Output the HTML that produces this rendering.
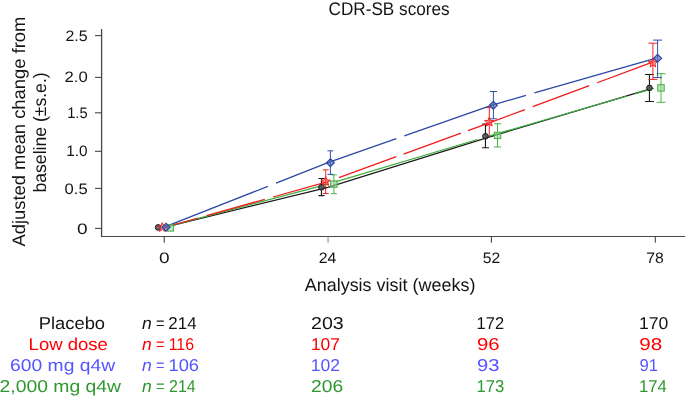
<!DOCTYPE html>
<html><head><meta charset="utf-8"><style>
html,body{margin:0;padding:0;background:#fff;}
body{width:685px;height:397px;overflow:hidden;}
svg{display:block;will-change:transform;}
text{font-family:"Liberation Sans", sans-serif;text-rendering:geometricPrecision;}
</style></head><body>
<svg width="685" height="397" viewBox="0 0 685 397">
<rect width="685" height="397" fill="#fff"/>
<line x1="101.6" y1="29.0" x2="101.6" y2="237.1" stroke="#474747" stroke-width="1.3"/>
<line x1="101.0" y1="236.5" x2="685" y2="236.5" stroke="#474747" stroke-width="1.15"/>
<line x1="95" y1="228.4" x2="101.6" y2="228.4" stroke="#474747" stroke-width="1.1"/>
<line x1="95" y1="188.4" x2="101.6" y2="188.4" stroke="#474747" stroke-width="1.1"/>
<line x1="95" y1="151.3" x2="101.6" y2="151.3" stroke="#474747" stroke-width="1.1"/>
<line x1="95" y1="112.8" x2="101.6" y2="112.8" stroke="#474747" stroke-width="1.1"/>
<line x1="95" y1="77.4" x2="101.6" y2="77.4" stroke="#474747" stroke-width="1.1"/>
<line x1="95" y1="35.6" x2="101.6" y2="35.6" stroke="#474747" stroke-width="1.1"/>
<line x1="164.2" y1="236.5" x2="164.2" y2="242.8" stroke="#474747" stroke-width="1.1"/>
<line x1="328.05" y1="236.5" x2="328.05" y2="242.8" stroke="#909090" stroke-width="1.1"/>
<line x1="491.4" y1="236.5" x2="491.4" y2="242.8" stroke="#474747" stroke-width="1.1"/>
<line x1="655.3" y1="236.5" x2="655.3" y2="242.8" stroke="#474747" stroke-width="1.1"/>
<path d="M321.45 178.50 L321.45 195.60 M318.45 178.50 L324.45 178.50 M318.45 195.60 L324.45 195.60" fill="none" stroke="#1c1c1c" stroke-width="1.15"/>
<path d="M485.45 124.00 L485.45 147.70 M481.85 124.00 L489.05 124.00 M481.85 147.70 L489.05 147.70" fill="none" stroke="#1c1c1c" stroke-width="1.15"/>
<path d="M649.45 74.50 L649.45 101.50 M644.95 74.50 L653.95 74.50 M644.95 101.50 L653.95 101.50" fill="none" stroke="#1c1c1c" stroke-width="1.15"/>
<path d="M333.90 174.80 L333.90 193.70 M330.90 174.80 L336.90 174.80 M330.90 193.70 L336.90 193.70" fill="none" stroke="#3fae3f" stroke-width="0.95"/>
<path d="M497.50 123.80 L497.50 147.00 M493.90 123.80 L501.10 123.80 M493.90 147.00 L501.10 147.00" fill="none" stroke="#3fae3f" stroke-width="0.95"/>
<path d="M661.00 73.70 L661.00 102.30 M656.50 73.70 L665.50 73.70 M656.50 102.30 L665.50 102.30" fill="none" stroke="#3fae3f" stroke-width="0.95"/>
<path d="M325.70 169.90 L325.70 193.50 M322.70 169.90 L328.70 169.90 M322.70 193.50 L328.70 193.50" fill="none" stroke="#f01a1a" stroke-width="0.95"/>
<path d="M489.30 107.60 L489.30 136.30 M485.70 107.60 L492.90 107.60 M485.70 136.30 L492.90 136.30" fill="none" stroke="#f01a1a" stroke-width="0.95"/>
<path d="M652.90 43.20 L652.90 79.40 M648.40 43.20 L657.40 43.20 M648.40 79.40 L657.40 79.40" fill="none" stroke="#f01a1a" stroke-width="0.95"/>
<path d="M330.40 150.80 L330.40 174.40 M327.40 150.80 L333.40 150.80 M327.40 174.40 L333.40 174.40" fill="none" stroke="#2a47a3" stroke-width="0.95"/>
<path d="M493.40 91.50 L493.40 118.80 M489.80 91.50 L497.00 91.50 M489.80 118.80 L497.00 118.80" fill="none" stroke="#2a47a3" stroke-width="0.95"/>
<path d="M657.60 40.10 L657.60 77.60 M653.10 40.10 L662.10 40.10 M653.10 77.60 L662.10 77.60" fill="none" stroke="#2a47a3" stroke-width="0.95"/>
<path d="M164.20 227.40 L327.90 187.30 L491.40 136.30 L649.45 89.20" fill="none" stroke="#1c1c1c" stroke-width="1.25"/>
<path d="M164.20 227.40 L327.90 184.10 L328.50 183.92M335.50 181.84 L477.60 139.51M485.60 137.13 L491.40 135.40 L627.30 96.01M635.00 93.78 L653.80 88.33" fill="none" stroke="#3fae3f" stroke-width="1.25"/>
<path d="M164.20 227.50 L198.10 217.99M206.60 215.61 L264.80 199.29M273.00 196.99 L327.90 181.60 L329.50 181.02M338.90 177.60 L396.30 156.71M403.60 154.05 L461.00 133.16M468.00 130.62 L491.40 122.10 L525.00 109.60M532.80 106.70 L589.30 85.67M597.20 82.74 L653.20 61.90" fill="none" stroke="#f01a1a" stroke-width="1.25"/>
<path d="M164.20 227.20 L267.80 186.38M276.10 183.11 L327.90 162.70 L396.30 138.69M404.30 135.88 L491.40 105.30 L526.00 95.38M534.40 92.97 L655.30 58.30" fill="none" stroke="#2a47a3" stroke-width="1.25"/>
<circle cx="158.15" cy="227.4" r="2.8" fill="#505050" fill-opacity="0.85" stroke="#151515" stroke-width="1.0"/>
<circle cx="321.45" cy="187.3" r="2.8" fill="#505050" fill-opacity="0.85" stroke="#151515" stroke-width="1.0"/>
<circle cx="485.45" cy="136.3" r="2.8" fill="#505050" fill-opacity="0.85" stroke="#151515" stroke-width="1.0"/>
<circle cx="649.45" cy="87.9" r="2.8" fill="#505050" fill-opacity="0.85" stroke="#151515" stroke-width="1.0"/>
<rect x="167.20" y="224.70" width="6.4" height="6.4" fill="#9bd69b" fill-opacity="0.6" stroke="#42ad42" stroke-width="1.0"/>
<rect x="330.70" y="180.90" width="6.4" height="6.4" fill="#9bd69b" fill-opacity="0.6" stroke="#42ad42" stroke-width="1.0"/>
<rect x="494.30" y="132.20" width="6.4" height="6.4" fill="#9bd69b" fill-opacity="0.6" stroke="#42ad42" stroke-width="1.0"/>
<rect x="657.80" y="84.70" width="6.4" height="6.4" fill="#9bd69b" fill-opacity="0.6" stroke="#42ad42" stroke-width="1.0"/>
<path d="M162.30 222.60 L163.53 225.80 L166.96 225.99 L164.30 228.15 L165.18 231.46 L162.30 229.60 L159.42 231.46 L160.30 228.15 L157.64 225.99 L161.07 225.80Z" fill="#ff5050" fill-opacity="0.55" stroke="#f01515" stroke-width="0.9"/>
<path d="M325.70 176.70 L326.93 179.90 L330.36 180.09 L327.70 182.25 L328.58 185.56 L325.70 183.70 L322.82 185.56 L323.70 182.25 L321.04 180.09 L324.47 179.90Z" fill="#ff5050" fill-opacity="0.55" stroke="#f01515" stroke-width="0.9"/>
<path d="M489.30 117.20 L490.53 120.40 L493.96 120.59 L491.30 122.75 L492.18 126.06 L489.30 124.20 L486.42 126.06 L487.30 122.75 L484.64 120.59 L488.07 120.40Z" fill="#ff5050" fill-opacity="0.55" stroke="#f01515" stroke-width="0.9"/>
<path d="M652.90 58.10 L654.13 61.30 L657.56 61.49 L654.90 63.65 L655.78 66.96 L652.90 65.10 L650.02 66.96 L650.90 63.65 L648.24 61.49 L651.67 61.30Z" fill="#ff5050" fill-opacity="0.55" stroke="#f01515" stroke-width="0.9"/>
<path d="M166.00 223.25 L169.95 227.20 L166.00 231.15 L162.05 227.20Z" fill="#5068b8" fill-opacity="0.65" stroke="#2a47a3" stroke-width="1.2"/>
<path d="M330.40 158.75 L334.35 162.70 L330.40 166.65 L326.45 162.70Z" fill="#5068b8" fill-opacity="0.65" stroke="#2a47a3" stroke-width="1.2"/>
<path d="M493.40 101.35 L497.35 105.30 L493.40 109.25 L489.45 105.30Z" fill="#5068b8" fill-opacity="0.65" stroke="#2a47a3" stroke-width="1.2"/>
<path d="M657.60 54.35 L661.55 58.30 L657.60 62.25 L653.65 58.30Z" fill="#5068b8" fill-opacity="0.65" stroke="#2a47a3" stroke-width="1.2"/>
<text transform="translate(328.48 14.90) scale(0.9395 1)" font-size="18.3" fill="#141414">CDR-SB scores</text>
<text transform="translate(65.51 40.50) scale(1.0481 1)" font-size="15.2" fill="#141414">2.5</text>
<text transform="translate(64.48 82.10) scale(1.0987 1)" font-size="15.2" fill="#141414">2.0</text>
<text transform="translate(67.21 117.70) scale(0.9652 1)" font-size="15.2" fill="#141414">1.5</text>
<text transform="translate(66.37 156.00) scale(1.0065 1)" font-size="15.2" fill="#141414">1.0</text>
<text transform="translate(64.62 193.70) scale(1.0918 1)" font-size="15.2" fill="#141414">0.5</text>
<text transform="translate(76.92 233.50) scale(1.2552 1)" font-size="15.2" fill="#141414">0</text>
<text transform="translate(159.02 262.50) scale(1.2552 1)" font-size="15.2" fill="#141414">0</text>
<text transform="translate(318.72 262.50) scale(1.0413 1)" font-size="15.2" fill="#141414">24</text>
<text transform="translate(482.85 262.50) scale(1.0323 1)" font-size="15.2" fill="#141414">52</text>
<text transform="translate(646.22 262.50) scale(1.0387 1)" font-size="15.2" fill="#141414">78</text>
<text transform="translate(304.70 290.70) scale(0.9978 1)" font-size="18" fill="#141414">Analysis visit (weeks)</text>
<text transform="translate(38.73 329.40) scale(1.0683 1)" font-size="17.2" fill="#141414">Placebo</text>
<text transform="translate(141.94 329.40) scale(1.0235 1)" font-size="17.2" fill="#141414"><tspan font-style="italic">n</tspan></text>
<text transform="translate(156.06 329.40) scale(0.8478 1)" font-size="17.2" fill="#141414">=</text>
<text transform="translate(168.34 329.40) scale(0.9835 1)" font-size="17.2" fill="#141414">214</text>
<text transform="translate(311.00 329.40) scale(1.1407 1)" font-size="17.2" fill="#141414">203</text>
<text transform="translate(476.60 329.40) scale(0.9577 1)" font-size="17.2" fill="#141414">172</text>
<text transform="translate(638.92 329.40) scale(1.0243 1)" font-size="17.2" fill="#141414">170</text>
<text transform="translate(28.62 350.30) scale(1.0769 1)" font-size="17.2" fill="#ff0000">Low dose</text>
<text transform="translate(141.94 350.30) scale(1.0235 1)" font-size="17.2" fill="#ff0000"><tspan font-style="italic">n</tspan></text>
<text transform="translate(156.06 350.30) scale(0.8478 1)" font-size="17.2" fill="#ff0000">=</text>
<text transform="translate(168.64 350.30) scale(0.9261 1)" font-size="17.2" fill="#ff0000">116</text>
<text transform="translate(310.93 350.30) scale(1.0141 1)" font-size="17.2" fill="#ff0000">107</text>
<text transform="translate(476.91 350.30) scale(1.1858 1)" font-size="17.2" fill="#ff0000">96</text>
<text transform="translate(639.30 350.30) scale(1.1972 1)" font-size="17.2" fill="#ff0000">98</text>
<text transform="translate(10.12 371.30) scale(1.1209 1)" font-size="17.2" fill="#5555ff">600 mg q4w</text>
<text transform="translate(141.94 371.30) scale(1.0235 1)" font-size="17.2" fill="#5555ff"><tspan font-style="italic">n</tspan></text>
<text transform="translate(156.06 371.30) scale(0.8478 1)" font-size="17.2" fill="#5555ff">=</text>
<text transform="translate(168.47 371.30) scale(1.0629 1)" font-size="17.2" fill="#5555ff">106</text>
<text transform="translate(310.72 371.30) scale(1.0216 1)" font-size="17.2" fill="#5555ff">102</text>
<text transform="translate(476.92 371.30) scale(1.1745 1)" font-size="17.2" fill="#5555ff">93</text>
<text transform="translate(639.47 371.30) scale(0.9714 1)" font-size="17.2" fill="#5555ff">91</text>
<text transform="translate(-0.48 392.40) scale(1.1249 1)" font-size="17.2" fill="#2f972f">2,000 mg q4w</text>
<text transform="translate(141.94 392.40) scale(1.0235 1)" font-size="17.2" fill="#2f972f"><tspan font-style="italic">n</tspan></text>
<text transform="translate(156.06 392.40) scale(0.8478 1)" font-size="17.2" fill="#2f972f">=</text>
<text transform="translate(168.98 392.40) scale(0.9321 1)" font-size="17.2" fill="#2f972f">214</text>
<text transform="translate(311.02 392.40) scale(1.1222 1)" font-size="17.2" fill="#2f972f">206</text>
<text transform="translate(476.59 392.40) scale(0.9690 1)" font-size="17.2" fill="#2f972f">173</text>
<text transform="translate(638.98 392.40) scale(0.9749 1)" font-size="17.2" fill="#2f972f">174</text>
<text transform="translate(25.00 246.50) rotate(-90) scale(1.0207 1)" font-size="18" fill="#141414">Adjusted mean change from</text>
<text transform="translate(45.50 192.50) rotate(-90) scale(0.9772 1)" font-size="18" fill="#141414">baseline (±s.e.)</text>
</svg>
</body></html>
